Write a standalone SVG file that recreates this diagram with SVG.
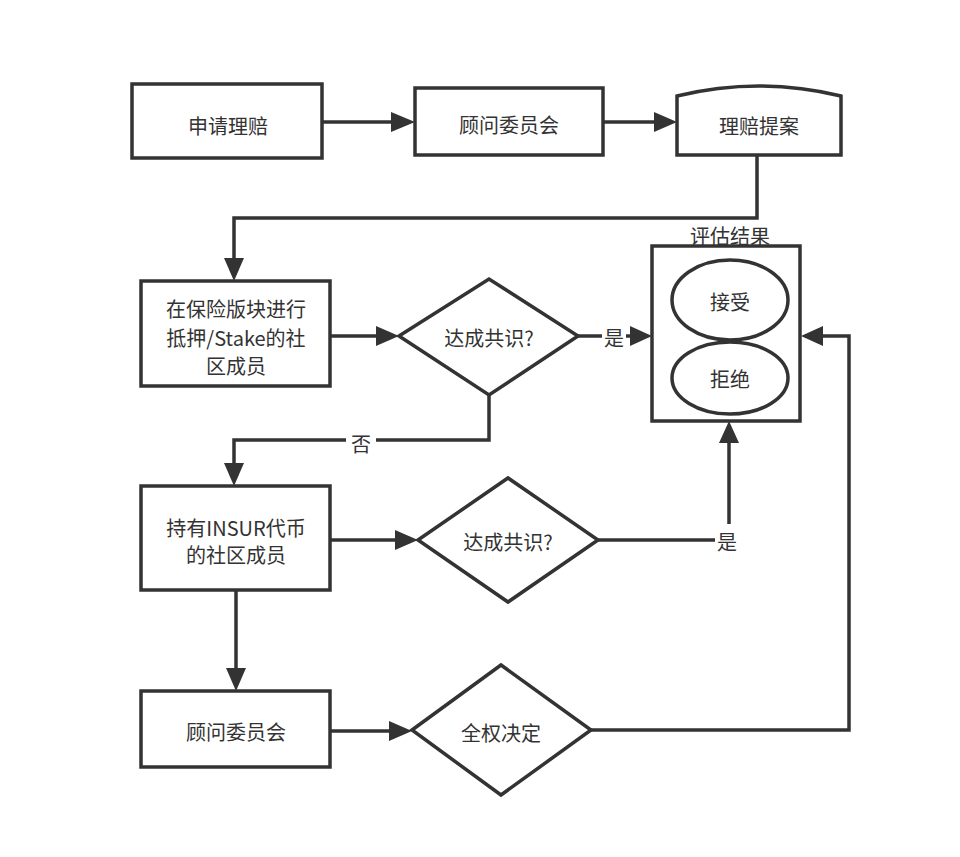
<svg xmlns="http://www.w3.org/2000/svg" width="960" height="857" viewBox="0 0 960 857">
<defs>
<style>
.s{fill:#fff;stroke:#333;stroke-width:3.5}
.c{fill:none;stroke:#333;stroke-width:3.5}
.h{fill:#333}
.t{font-family:"Noto Sans CJK SC","Noto Sans",sans-serif;font-size:20px;fill:#333;text-anchor:middle;dominant-baseline:central}
</style>
</defs>
<rect width="960" height="857" fill="#fff"/>
<g id="connectors">
<path class="c" d="M322,122 H397"/>
<polygon class="h" points="391,112 415,122 391,132"/>
<path class="c" d="M603,122 H660"/>
<polygon class="h" points="654,112 677,122 654,132"/>
<path class="c" d="M757,155 V218 H234 V262"/>
<polygon class="h" points="224,258 234,281 244,258"/>
<path class="c" d="M330,336 H382"/>
<polygon class="h" points="376,326 399,336 376,346"/>
<path class="c" d="M578,336 H602"/>
<path class="c" d="M626,336 H636"/>
<polygon class="h" points="630,326 652,336 630,346"/>
<text class="t" x="614" y="337">是</text>
<path class="c" d="M489,395 V440 H376"/>
<path class="c" d="M346,440 H234 V468"/>
<polygon class="h" points="224,463 234,486 244,463"/>
<text class="t" x="361" y="443">否</text>
<path class="c" d="M330,540 H401"/>
<polygon class="h" points="395,530 418,540 395,550"/>
<path class="c" d="M598,540 H715"/>
<path class="c" d="M729,524 V438"/>
<polygon class="h" points="719,443 729,421 739,443"/>
<text class="t" x="727" y="541">是</text>
<path class="c" d="M236,590 V673"/>
<polygon class="h" points="226,668 236,691 246,668"/>
<path class="c" d="M330,731 H395"/>
<polygon class="h" points="389,721 412,731 389,741"/>
<path class="c" d="M591,730 H849 V336 H818"/>
<polygon class="h" points="823,326 801,336 823,346"/>
</g>
<g id="n1"><rect class="s" x="132" y="84" width="190" height="74"/><text class="t" x="228" y="125">申请理赔</text></g>
<g id="n2"><rect class="s" x="415" y="88" width="188" height="67"/><text class="t" x="509" y="124">顾问委员会</text></g>
<g id="n3"><path class="s" d="M677,155 V96 Q759,76 841,96 V155 Z"/><text class="t" x="759" y="125">理赔提案</text></g>
<g id="n4"><rect class="s" x="141" y="281" width="189" height="105"/>
<text class="t" x="236" y="308">在保险版块进行</text>
<text class="t" x="236" y="337">抵押/Stake的社</text>
<text class="t" x="236" y="365">区成员</text></g>
<g id="d1"><polygon class="s" points="399,336 489,279 578,336 489,395"/><text class="t" x="489" y="337">达成共识?</text></g>
<g id="result"><rect class="s" x="652" y="246" width="148" height="175"/>
<text class="t" x="730" y="235">评估结果</text>
<ellipse class="s" cx="730" cy="300" rx="58" ry="40"/><text class="t" x="730" y="301">接受</text>
<ellipse class="s" cx="730" cy="378" rx="58" ry="36"/><text class="t" x="730" y="378">拒绝</text></g>
<g id="n5"><rect class="s" x="141" y="486" width="189" height="104"/>
<text class="t" x="236" y="527">持有INSUR代币</text>
<text class="t" x="236" y="554">的社区成员</text></g>
<g id="d2"><polygon class="s" points="418,540 508,478 598,540 508,602"/><text class="t" x="508" y="541">达成共识?</text></g>
<g id="n6"><rect class="s" x="141" y="691" width="189" height="76"/><text class="t" x="236" y="731">顾问委员会</text></g>
<g id="d3"><polygon class="s" points="412,730 501,665 591,730 501,795"/><text class="t" x="501" y="732">全权决定</text></g>
</svg>
